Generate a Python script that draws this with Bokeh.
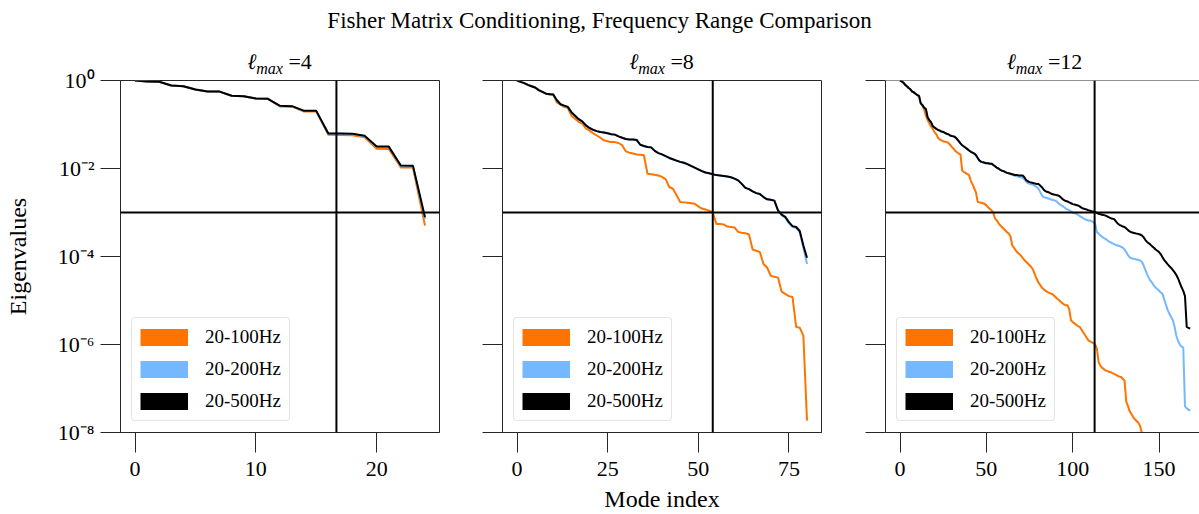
from bokeh.plotting import figure
from bokeh.models import (Range1d, FixedTicker, CustomJSTickFormatter, Span,
                          Legend, LegendItem, Div, ColumnDataSource)
from bokeh.layouts import row, column
from bokeh.embed import file_html
from bokeh.resources import INLINE

# ---------------- data (eigenvalues stored as log10 exponents) -------------
SUPTITLE = "Fisher Matrix Conditioning, Frequency Range Comparison"
SERIES = ["20-100Hz", "20-200Hz", "20-500Hz"]
COLORS = ["#ff7300", "#75b8ff", "#000000"]
LMAX = [4, 8, 12]
THRESHOLD = 1e-3
CUT_INDEX = [16.67, 54.0, 112.67]
Y_TICKS = [1e-8, 1e-6, 1e-4, 1e-2, 1e0]
X_TICKS = [[0, 10, 20], [0, 25, 50, 75], [0, 50, 100, 150]]
X_RANGES = [(-1.2, 25.2), (-4.0, 84.0), (-8.4, 173.4)]
Y_RANGE = (1e-8, 1e0)

l4_100_log10 = [0, -0.023, -0.030, -0.114, -0.129, -0.205, -0.25, -0.252, -0.348, -0.356,
                -0.409, -0.417, -0.591, -0.595, -0.705, -0.707, -1.235, -1.237, -1.243, -1.288,
                -1.553, -1.555, -1.977, -1.980, -3.295]
l4_200_log10 = [0, -0.023, -0.030, -0.114, -0.129, -0.205, -0.25, -0.252, -0.348, -0.356,
                -0.409, -0.417, -0.58, -0.587, -0.693, -0.694, -1.21, -1.212, -1.22, -1.265,
                -1.51, -1.512, -1.94, -1.943, -3.15]
l4_500_log10 = [0, -0.023, -0.030, -0.114, -0.129, -0.205, -0.25, -0.252, -0.348, -0.356,
                -0.409, -0.417, -0.576, -0.583, -0.689, -0.690, -1.205, -1.207, -1.212, -1.258,
                -1.50, -1.502, -1.932, -1.935, -3.106]

l8_100_log10 = [0, -0.03, -0.06, -0.10, -0.13, -0.16, -0.22, -0.26, -0.30, -0.31,
                -0.32, -0.50, -0.55, -0.60, -0.62, -0.80, -0.87, -0.94, -0.98, -1.09,
                -1.14, -1.20, -1.25, -1.30, -1.36, -1.38, -1.40, -1.40, -1.42, -1.47,
                -1.61, -1.64, -1.66, -1.68, -1.69, -1.70, -2.12, -2.13, -2.14, -2.16,
                -2.19, -2.24, -2.42, -2.46, -2.60, -2.76, -2.77, -2.78, -2.79, -2.80,
                -2.86, -2.91, -2.93, -2.96, -3.00, -3.26, -3.26, -3.27, -3.32, -3.33,
                -3.34, -3.44, -3.46, -3.47, -3.50, -3.84, -3.87, -3.90, -4.17, -4.25,
                -4.44, -4.46, -4.48, -4.80, -4.85, -4.90, -4.92, -5.60, -5.62, -5.80,
                -7.73]
l8_200_log10 = [0, -0.03, -0.06, -0.10, -0.13, -0.16, -0.22, -0.26, -0.30, -0.31,
                -0.32, -0.45, -0.54, -0.57, -0.60, -0.72, -0.80, -0.88, -0.93, -1.02,
                -1.08, -1.12, -1.15, -1.17, -1.18, -1.20, -1.22, -1.23, -1.27, -1.30,
                -1.33, -1.34, -1.34, -1.35, -1.46, -1.49, -1.51, -1.52, -1.60, -1.65,
                -1.68, -1.72, -1.76, -1.79, -1.82, -1.85, -1.87, -1.90, -1.94, -1.98,
                -2.02, -2.06, -2.09, -2.11, -2.13, -2.15, -2.16, -2.17, -2.18, -2.20,
                -2.23, -2.27, -2.35, -2.44, -2.47, -2.52, -2.56, -2.58, -2.65, -2.70,
                -2.71, -2.73, -2.96, -3.06, -3.12, -3.24, -3.33, -3.35, -3.45, -3.80,
                -4.17]
l8_500_log10 = [0, -0.03, -0.06, -0.10, -0.13, -0.16, -0.22, -0.26, -0.30, -0.31,
                -0.32, -0.45, -0.54, -0.57, -0.60, -0.72, -0.80, -0.88, -0.93, -1.02,
                -1.08, -1.12, -1.15, -1.17, -1.18, -1.20, -1.22, -1.23, -1.27, -1.30,
                -1.33, -1.34, -1.34, -1.35, -1.46, -1.49, -1.51, -1.52, -1.60, -1.65,
                -1.68, -1.72, -1.76, -1.79, -1.82, -1.85, -1.87, -1.90, -1.94, -1.98,
                -2.02, -2.06, -2.09, -2.11, -2.13, -2.15, -2.16, -2.17, -2.18, -2.20,
                -2.23, -2.27, -2.35, -2.44, -2.47, -2.52, -2.56, -2.58, -2.65, -2.70,
                -2.71, -2.73, -2.95, -3.05, -3.10, -3.22, -3.31, -3.33, -3.42, -3.75,
                -4.03]

l12_100_log10 = [0, -0.02, -0.05, -0.10, -0.13, -0.17, -0.20, -0.25, -0.27, -0.30,
                 -0.33, -0.35, -0.52, -0.58, -0.66, -0.80, -0.90, -0.98, -1.05, -1.10,
                 -1.18, -1.22, -1.30, -1.34, -1.36, -1.38, -1.39, -1.40, -1.42, -1.46,
                 -1.51, -1.55, -1.60, -1.63, -1.66, -1.68, -2.05, -2.08, -2.10, -2.13,
                 -2.15, -2.28, -2.36, -2.45, -2.55, -2.76, -2.77, -2.78, -2.79, -2.80,
                 -2.84, -2.88, -2.92, -2.95, -3.00, -3.14, -3.18, -3.24, -3.29, -3.33,
                 -3.37, -3.41, -3.45, -3.48, -3.55, -3.75, -3.80, -3.86, -3.91, -3.94,
                 -3.98, -4.03, -4.08, -4.12, -4.16, -4.20, -4.24, -4.30, -4.40, -4.50,
                 -4.58, -4.64, -4.70, -4.74, -4.77, -4.80, -4.82, -4.84, -4.85, -4.88,
                 -4.92, -4.96, -4.99, -5.03, -5.06, -5.09, -5.11, -5.11, -5.20, -5.45,
                 -5.49, -5.52, -5.55, -5.58, -5.60, -5.66, -5.72, -5.78, -5.84, -5.90,
                 -5.93, -5.95, -5.97, -6.00, -6.10, -6.40, -6.48, -6.53, -6.56, -6.59,
                 -6.60, -6.62, -6.63, -6.65, -6.67, -6.69, -6.71, -6.73, -6.74, -6.78,
                 -6.82, -7.30, -7.40, -7.52, -7.58, -7.65, -7.70, -7.74, -7.78, -7.85,
                 -8.00, -8.15]
l12_200_log10 = [0, -0.02, -0.05, -0.10, -0.13, -0.17, -0.20, -0.25, -0.27, -0.30,
                 -0.33, -0.35, -0.52, -0.56, -0.62, -0.65, -0.84, -0.90, -0.95, -1.04,
                 -1.07, -1.10, -1.12, -1.14, -1.16, -1.17, -1.19, -1.21, -1.22, -1.25,
                 -1.26, -1.27, -1.29, -1.33, -1.38, -1.43, -1.47, -1.50, -1.53, -1.56,
                 -1.59, -1.62, -1.64, -1.66, -1.70, -1.76, -1.82, -1.85, -1.86, -1.87,
                 -1.88, -1.88, -1.89, -1.89, -1.92, -1.95, -1.98, -2.00, -2.03, -2.05,
                 -2.06, -2.08, -2.10, -2.11, -2.13, -2.14, -2.16, -2.17, -2.18, -2.19,
                 -2.20, -2.21, -2.25, -2.30, -2.33, -2.35, -2.36, -2.37, -2.39, -2.42,
                 -2.45, -2.52, -2.60, -2.65, -2.66, -2.67, -2.68, -2.70, -2.71, -2.72,
                 -2.73, -2.76, -2.80, -2.83, -2.85, -2.88, -2.91, -2.93, -2.95, -2.98,
                 -3.00, -3.02, -3.03, -3.05, -3.08, -3.10, -3.13, -3.15, -3.17, -3.18,
                 -3.18, -3.20, -3.22, -3.26, -3.45, -3.48, -3.52, -3.55, -3.58, -3.60,
                 -3.63, -3.66, -3.68, -3.70, -3.72, -3.74, -3.75, -3.76, -3.78, -3.80,
                 -3.84, -3.90, -3.97, -4.02, -4.04, -4.05, -4.06, -4.07, -4.08, -4.09,
                 -4.12, -4.20, -4.30, -4.40, -4.48, -4.55, -4.60, -4.66, -4.71, -4.74,
                 -4.78, -4.82, -4.85, -4.98, -5.10, -5.22, -5.30, -5.38, -5.45, -5.60,
                 -5.80, -5.92, -6.00, -6.05, -6.07, -7.40, -7.45, -7.48, -7.50]
l12_500_log10 = [0, -0.02, -0.05, -0.10, -0.13, -0.17, -0.20, -0.25, -0.27, -0.30,
                 -0.33, -0.35, -0.52, -0.56, -0.62, -0.65, -0.84, -0.90, -0.95, -1.04,
                 -1.07, -1.10, -1.12, -1.14, -1.16, -1.17, -1.19, -1.21, -1.22, -1.25,
                 -1.26, -1.27, -1.29, -1.33, -1.38, -1.43, -1.47, -1.50, -1.53, -1.56,
                 -1.59, -1.62, -1.64, -1.66, -1.70, -1.76, -1.82, -1.85, -1.86, -1.87,
                 -1.88, -1.88, -1.89, -1.89, -1.92, -1.95, -1.98, -2.00, -2.03, -2.05,
                 -2.06, -2.08, -2.10, -2.11, -2.12, -2.13, -2.14, -2.15, -2.15, -2.16,
                 -2.16, -2.16, -2.20, -2.26, -2.29, -2.31, -2.32, -2.33, -2.34, -2.35,
                 -2.35, -2.38, -2.42, -2.47, -2.51, -2.53, -2.54, -2.56, -2.58, -2.59,
                 -2.60, -2.61, -2.62, -2.65, -2.69, -2.72, -2.74, -2.75, -2.77, -2.79,
                 -2.81, -2.82, -2.83, -2.84, -2.86, -2.89, -2.91, -2.92, -2.93, -2.95,
                 -2.96, -2.97, -2.98, -2.99, -3.01, -3.03, -3.04, -3.05, -3.06, -3.07,
                 -3.09, -3.11, -3.13, -3.14, -3.15, -3.20, -3.25, -3.28, -3.30, -3.32,
                 -3.33, -3.36, -3.40, -3.43, -3.45, -3.46, -3.47, -3.48, -3.49, -3.50,
                 -3.52, -3.56, -3.62, -3.67, -3.70, -3.73, -3.77, -3.80, -3.84, -3.87,
                 -3.90, -3.95, -4.02, -4.08, -4.13, -4.18, -4.22, -4.26, -4.31, -4.36,
                 -4.42, -4.50, -4.60, -4.70, -4.78, -4.90, -5.60, -5.62, -5.64]

PANEL_SERIES = [
    [l4_100_log10, l4_200_log10, l4_500_log10],
    [l8_100_log10, l8_200_log10, l8_500_log10],
    [l12_100_log10, l12_200_log10, l12_500_log10],
]

# ---------------- styling / layout -------------
SERIF = "Liberation Serif"
SPINE = "#262626"
FRAME_W = [319, 319, 314]
FRAME_H = 352
MB_LEFT = [120, 42, 43]
MB_RIGHT = [21, 21, 0]
HEAD_H = 64          # height of the html header (suptitle + panel titles)
MB_TOP = 16          # 64 + 16 = 80 -> frame top
MB_BOTTOM = 514 - HEAD_H - MB_TOP - FRAME_H
PANEL_CENTERS = [279.5, 661.5, 1044.5]

sup_js = """
const e = Math.round(Math.log10(tick));
const m = {"0":"\u2070","1":"\u00b9","2":"\u00b2","3":"\u00b3","4":"\u2074","5":"\u2075",
           "6":"\u2076","7":"\u2077","8":"\u2078","9":"\u2079","-":"\u207b"};
return "10" + String(e).split("").map(c => m[c]).join("");
"""


def make_panel(k):
    p = figure(output_backend="svg", toolbar_location=None, y_axis_type="log",
               x_range=Range1d(*X_RANGES[k]), y_range=Range1d(*Y_RANGE),
               frame_width=FRAME_W[k], frame_height=FRAME_H,
               min_border_left=MB_LEFT[k], min_border_right=MB_RIGHT[k],
               min_border_top=MB_TOP, min_border_bottom=MB_BOTTOM)
    p.grid.visible = False
    p.background_fill_color = "white"
    p.border_fill_color = None
    if k < 2:
        p.outline_line_color = SPINE
        p.outline_line_width = 1
    else:
        p.outline_line_color = None
        p.add_layout(Span(location=Y_RANGE[1], dimension="width", line_color=SPINE, line_width=1))

    # curves
    for vals, color in zip(PANEL_SERIES[k], COLORS):
        src = ColumnDataSource(dict(x=list(range(len(vals))), y=[10.0 ** v for v in vals]))
        p.line("x", "y", source=src, line_color=color, line_width=2)

    # reference lines
    p.add_layout(Span(location=THRESHOLD, dimension="width", line_color="black", line_width=2))
    p.add_layout(Span(location=CUT_INDEX[k], dimension="height", line_color="black", line_width=2))

    # axes
    p.xaxis.ticker = FixedTicker(ticks=X_TICKS[k])
    p.yaxis.ticker = FixedTicker(ticks=Y_TICKS)
    if k == 0:
        p.yaxis.formatter = CustomJSTickFormatter(code=sup_js)
        p.yaxis.axis_label = "Eigenvalues"
    else:
        p.yaxis.formatter = CustomJSTickFormatter(code="return '';")
    if k == 1:
        p.xaxis.axis_label = "Mode index"
    for ax in (p.xaxis[0], p.yaxis[0]):
        ax.axis_line_color = SPINE
        ax.major_tick_line_color = SPINE
        ax.major_tick_out = 20
        ax.major_tick_in = 0
        ax.minor_tick_line_color = None
        ax.major_label_text_font = SERIF
        ax.major_label_text_font_size = "22px"
        ax.major_label_text_color = "black"
        ax.major_label_standoff = 6
        ax.axis_label_text_font = SERIF
        ax.axis_label_text_font_size = "24px"
        ax.axis_label_text_font_style = "normal"
        ax.axis_label_text_color = "black"
    p.xaxis.major_label_standoff = 9
    p.xaxis.axis_label_standoff = 7
    p.yaxis.axis_label_standoff = 24

    # legend with filled swatches (NaN-only renderers, nothing drawn in the frame)
    items = []
    for name, color in zip(SERIES, COLORS):
        dummy = p.line(x=[float("nan")], y=[float("nan")], line_color=color, line_width=17)
        items.append(LegendItem(label=name, renderers=[dummy]))
    leg = Legend(items=items, location="bottom_left", margin=11, padding=8,
                 glyph_width=48, glyph_height=20, label_height=20, spacing=10,
                 label_standoff=17, label_text_font=SERIF, label_text_font_size="19px",
                 label_text_color="black", border_line_color="#cccccc", border_line_width=1,
                 background_fill_color="white", background_fill_alpha=1.0)
    if "border_radius" in Legend.properties():
        leg.border_radius = 4
    p.add_layout(leg)
    return p


panels = [make_panel(k) for k in range(3)]

head = ['<div style="position:relative;width:1199px;height:%dpx;font-family:\'%s\';'
        'color:black;overflow:visible;">' % (HEAD_H, SERIF)]
head.append('<div style="position:absolute;left:0;top:8px;width:1199px;text-align:center;'
            'font-size:23px;line-height:26px;white-space:nowrap;">%s</div>' % SUPTITLE)
for c, lm in zip(PANEL_CENTERS, LMAX):
    head.append('<div style="position:absolute;left:%.1fpx;top:49px;transform:translateX(-50%%);'
                'font-size:22px;line-height:26px;white-space:nowrap;">'
                '<i>\u2113</i><sub style="font-size:16px;font-style:italic;line-height:0;">max</sub>'
                '&nbsp;=%d</div>' % (c, lm))
head.append('</div>')

header = Div(text="".join(head), width=1199, height=HEAD_H, margin=0,
             styles={"overflow": "visible", "z-index": "5"})

layout = column(header, row(*panels))

html = file_html(layout, INLINE, title="Fisher Matrix Conditioning")
with open("out.html", "w", encoding="utf-8") as f:
    f.write(html)
